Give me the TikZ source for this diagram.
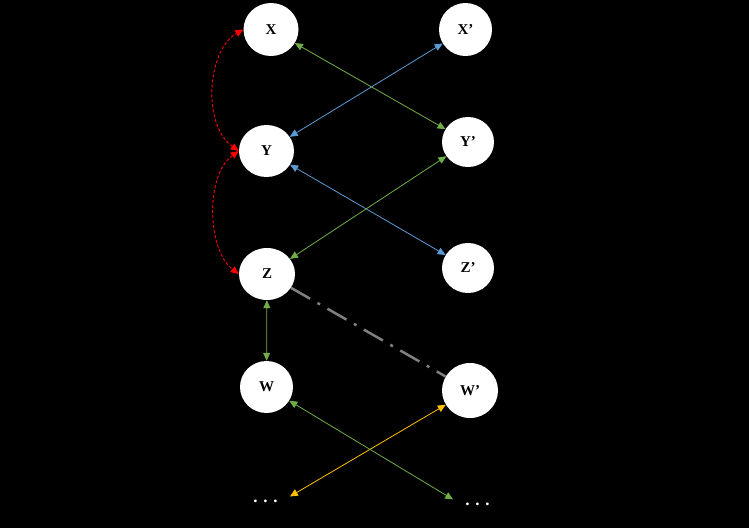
\documentclass[tikz,border=0pt]{standalone}
\usepackage{fontspec}
\setmainfont{Liberation Serif}
\usetikzlibrary{arrows.meta,shapes.geometric}
\definecolor{cgreen}{HTML}{70AD47}
\definecolor{cblue}{HTML}{5B9BD5}
\definecolor{cyellow}{HTML}{FFC000}
\definecolor{cgray}{HTML}{808080}
\begin{document}
\begin{tikzpicture}[x=1pt,y=-1pt,
  vnode/.style={ellipse,fill=white,inner sep=0pt,text=black,
    font=\fontsize{15}{17}\selectfont\bfseries},
  dotsnode/.style={text=white,font=\fontsize{17}{19}\selectfont\bfseries,
    inner xsep=12pt,inner ysep=0pt,text height=6pt,text depth=0pt,anchor=base},
  link/.style={line width=0.8pt,{Triangle[length=8pt,width=7pt]}-{Triangle[length=8pt,width=7pt]}},
  redlink/.style={red,line width=0.9pt,dash pattern=on 3pt off 2pt,
    {Triangle[length=8pt,width=7pt]}-{Triangle[length=8pt,width=7pt]}},
  dashdot/.style={cgray,line width=2.5pt,dash pattern=on 22pt off 8.5pt on 3pt off 8.5pt}
]
\fill[black] (0,0) rectangle (749,528);
\useasboundingbox (0,0) rectangle (749,528);

\node[vnode,minimum width=55pt,minimum height=53pt] (X)  at (271,29.5) {X};
\node[vnode,minimum width=53pt,minimum height=53pt] (Xp) at (465.5,29.5) {X'};
\node[vnode,minimum width=55pt,minimum height=52pt] (Y)  at (266.5,151) {Y};
\node[vnode,minimum width=52pt,minimum height=50pt] (Yp) at (468,142) {Y'};
\node[vnode,minimum width=56pt,minimum height=52pt] (Z)  at (267,274) {Z};
\node[vnode,minimum width=52pt,minimum height=50pt] (Zp) at (468,268) {Z'};
\node[vnode,minimum width=53pt,minimum height=52pt] (W)  at (266.5,387) {W};
\node[vnode,minimum width=56pt,minimum height=55pt] (Wp) at (470,390.5) {W'};
\node[dotsnode] (dl) at (265.5,502.7) {.\hspace{5.8pt}.\hspace{5.8pt}.};
\node[dotsnode] (dr) at (477.5,505.7) {.\hspace{5.8pt}.\hspace{5.8pt}.};

\draw[link,cgreen] (X) -- (Yp);
\draw[link,cblue] (Xp) -- (Y);
\draw[link,cblue] (Y) -- (Zp);
\draw[link,cgreen] (Yp) -- (Z);
\draw[link,cgreen] (Z) -- (W);
\draw[dashdot] (Z) -- (Wp);
\draw[link,cyellow] (Wp) -- (dl.north east);
\draw[link,cgreen] (W) -- (dr.north west);

\draw[redlink] (Y.west) .. controls (202,125) and (207,50) .. (X.west);
\draw[redlink] (Y.west) .. controls (205,175) and (207,250) .. (Z.west);
\end{tikzpicture}
\end{document}
